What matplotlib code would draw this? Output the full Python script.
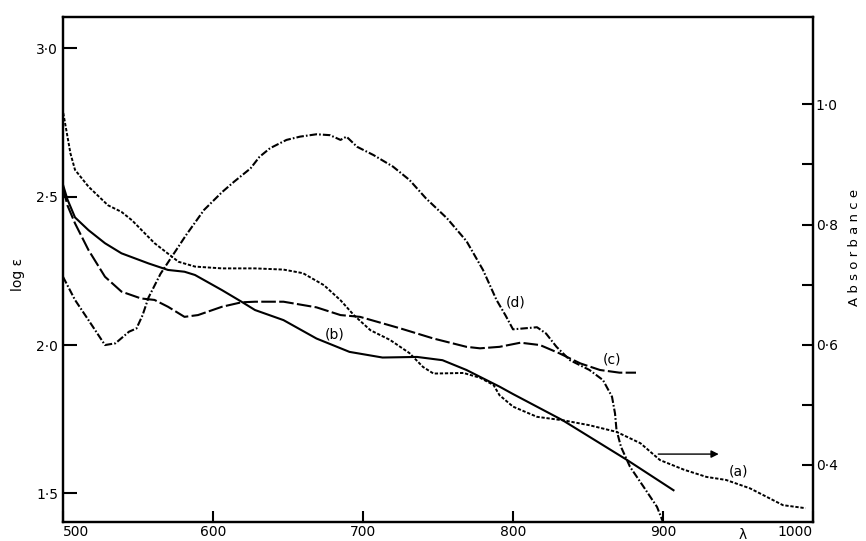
import matplotlib.pyplot as plt

# Curva (a): absorbância (eixo da direita)
lam_a = [499, 501, 505, 508, 517, 530, 539, 546, 561, 577, 588, 606, 628, 647, 660, 674,
         685, 694, 705, 718, 731, 740, 747, 767, 778, 787, 791, 800, 816, 834, 851, 869,
         885, 898, 914, 929, 942, 958, 969, 980, 995]
abs_a = [1.002, 0.974, 0.918, 0.891, 0.863, 0.832, 0.821, 0.807, 0.769, 0.738, 0.730, 0.727,
         0.727, 0.725, 0.719, 0.699, 0.674, 0.649, 0.624, 0.608, 0.586, 0.563, 0.552, 0.553,
         0.545, 0.533, 0.516, 0.497, 0.480, 0.474, 0.466, 0.455, 0.436, 0.408, 0.392, 0.380,
         0.375, 0.361, 0.347, 0.333, 0.328]

# Curva (b): log eps, linha cheia
lam_b = [500, 503, 508, 517, 528, 539, 557, 570, 581, 588, 606, 619, 628, 647, 669, 691,
         713, 736, 753, 769, 778, 791, 800, 833, 876, 907]
eps_b = [2.54, 2.49, 2.43, 2.387, 2.343, 2.309, 2.275, 2.253, 2.247, 2.236, 2.185, 2.146,
         2.118, 2.084, 2.022, 1.977, 1.958, 1.96, 1.949, 1.916, 1.893, 1.86, 1.835, 1.747,
         1.613, 1.511]

# Curva (c): log eps, tracejado longo
lam_c = [500, 503, 508, 517, 528, 539, 552, 561, 570, 581, 590, 606, 619, 628, 647, 669,
         685, 698, 725, 747, 769, 778, 791, 805, 818, 831, 845, 858, 871, 882]
eps_c = [2.53, 2.47, 2.41, 2.32, 2.23, 2.18, 2.157, 2.152, 2.129, 2.095, 2.101, 2.129,
         2.144, 2.146, 2.146, 2.127, 2.101, 2.095, 2.056, 2.022, 1.994, 1.989, 1.994, 2.008,
         2.0, 1.972, 1.938, 1.916, 1.907, 1.907]

# Curva (d): log eps, traço-ponto
lam_d = [500, 508, 517, 528, 535, 544, 549, 553, 557, 565, 582, 594, 606, 614, 625, 631,
         638, 649, 658, 669, 678, 685, 689, 696, 707, 720, 731, 742, 756, 769, 780, 789,
         795, 800, 807, 816, 822, 829, 838, 851, 860, 866, 868, 869, 872, 878, 887, 896, 900]
eps_d = [2.23, 2.152, 2.084, 2.0, 2.006, 2.045, 2.056, 2.10, 2.16, 2.24, 2.37, 2.455, 2.515,
         2.55, 2.595, 2.634, 2.663, 2.691, 2.702, 2.71, 2.707, 2.691, 2.702, 2.668, 2.64,
         2.601, 2.556, 2.494, 2.427, 2.35, 2.253, 2.152, 2.10, 2.053, 2.056, 2.06, 2.039,
         1.994, 1.949, 1.916, 1.882, 1.826, 1.77, 1.714, 1.657, 1.59, 1.523, 1.455, 1.404]

x_ticks = [500, 600, 700, 800, 900, 1000]
left_ticks = [1.5, 2.0, 2.5, 3.0]
left_labels = ['1·5', '2·0', '2·5', '3·0']
right_ticks = [0.4, 0.6, 0.8, 1.0]
right_minor = [0.5, 0.7, 0.9]
right_labels = ['0·4', '0·6', '0·8', '1·0']

fig = plt.figure(figsize=(8.66, 5.41), dpi=100)
ax = fig.add_axes([63 / 866, 1 - 522 / 541, 750 / 866, 504.7 / 541])
ax2 = ax.twinx()

ax.plot(lam_b, eps_b, color='black', lw=1.5)
ax.plot(lam_c, eps_c, color='black', lw=1.5, dashes=(7, 1.6))
ax.plot(lam_d, eps_d, color='black', lw=1.5, dashes=(3.6, 1.0, 0.8, 1.0))
ax2.plot(lam_a, abs_a, color='black', lw=1.4, dashes=(1.7, 0.9))

# seta da curva (a) para o eixo da direita
ax2.annotate('', xy=(939, 0.418), xytext=(895, 0.418),
             arrowprops=dict(arrowstyle='-|>', lw=1, color='black', mutation_scale=11))

# rótulos das curvas
ax.text(950, 1.575, '(a)', fontsize=10, ha='center', va='center')
ax.text(681, 2.034, '(b)', fontsize=10, ha='center', va='center')
ax.text(866, 1.953, '(c)', fontsize=10, ha='center', va='center')
ax.text(802, 2.145, '(d)', fontsize=10, ha='center', va='center')

ax.set_xlim(500, 1000)
ax.set_ylim(1.404, 3.104)
ax2.set_ylim(0.305, 1.1448)

ax.set_xticks(x_ticks)
ax.set_xticklabels([str(v) for v in x_ticks])
xl = ax.get_xticklabels()
xl[0].set_ha('left')
xl[-1].set_ha('right')
ax.set_yticks(left_ticks)
ax.set_yticklabels(left_labels)
ax2.set_yticks(right_ticks)
ax2.set_yticklabels(right_labels)
ax2.set_yticks(right_minor, minor=True)

ax.tick_params(axis='y', direction='in', length=10, width=1.5, labelsize=10, pad=3.5)
ax.tick_params(axis='x', direction='in', length=8, width=1.5, labelsize=10, pad=2)
ax2.tick_params(axis='y', which='both', direction='in', length=8, width=1.5, labelsize=10, pad=2)

for a in (ax, ax2):
    for s in a.spines.values():
        s.set_linewidth(1.6)

ax.text(953, -0.012, 'λ', transform=ax.get_xaxis_transform(), ha='center', va='top', fontsize=10)
fig.text(18 / 866, 1 - 274 / 541, 'log ε', rotation=90, ha='center', va='center', fontsize=10)
fig.text(855 / 866, 1 - 247 / 541, 'A b s o r b a n c e', rotation=90, ha='center', va='center',
         fontsize=9.5)

fig.savefig('out.png', dpi=100)
